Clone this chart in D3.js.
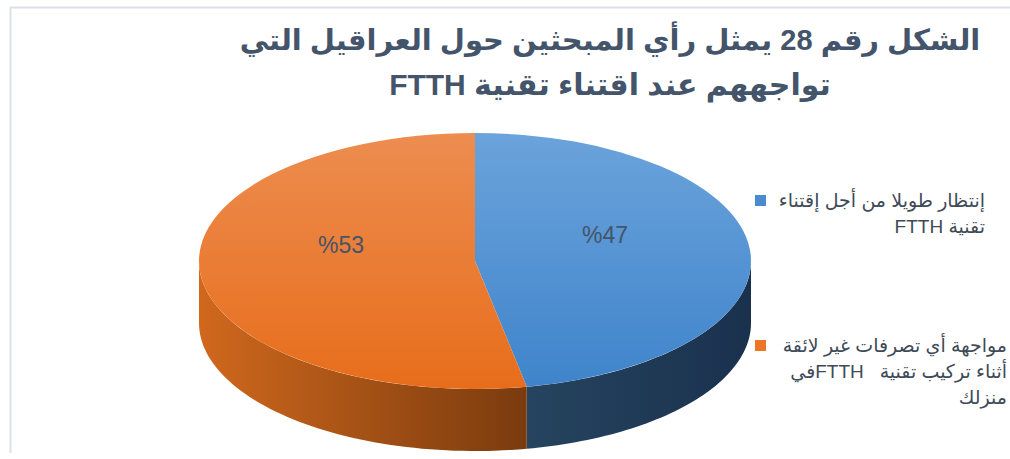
<!DOCTYPE html>
<html>
<head>
<meta charset="utf-8">
<script src="https://cdn.jsdelivr.net/npm/d3@7"></script>
<style>
  html, body { margin: 0; padding: 0; background: #fff; }
  svg { display: block; }
  text { white-space: pre; }
</style>
</head>
<body>
<div id="chart"></div>
<script>
// chart data
var titleLines = [
    'الشكل رقم 28 يمثل رأي المبحثين حول العراقيل التي',
    'تواجههم عند اقتناء تقنية FTTH'
];
var categories = [
    'إنتظار طويلا من أجل إقتناء تقنية FTTH',
    'مواجهة أي تصرفات غير لائقة أثناء تركيب تقنية   FTTHفي منزلك'
];
// legend text as wrapped in the picture
var legendLines = [
    ['إنتظار طويلا من أجل إقتناء', 'تقنية FTTH'],
    ['مواجهة أي تصرفات غير لائقة', 'أثناء تركيب تقنية   FTTHفي', 'منزلك']
];
var values = [47, 53];
var topColors = [['#6ba3db', '#3f84cb'], ['#ed8d50', '#e76d1b']];
var sideColors = [['#26445f', '#1a314e'], ['#d0681d', '#7a3b0e']];
var legendColors = ['#4a8bd0', '#ec7526'];

var width = 1010,
    height = 459,
    cx = 475,
    cy = 261,
    rx = 276,
    ry = 128,
    depth = 62;

var svg = d3.select('#chart').append('svg')
    .attr('width', width)
    .attr('height', height);

var defs = svg.append('defs');

// frame lines (top and left edges of the chart area)
svg.append('path')
    .attr('d', 'M10.5,453 L10.5,7.5 L1010,7.5')
    .attr('fill', 'none')
    .attr('stroke', '#dbe1e8')
    .attr('stroke-width', 2);

var pie = d3.pie().sort(null).value(function(d) { return d; });
var arcs = pie(values);

function pt(a, dy) {
    return [cx + rx * Math.sin(a), cy - ry * Math.cos(a) + (dy || 0)];
}

// side walls, only the front half (pi/2 .. 3pi/2) shows
var sideG = svg.append('g');
arcs.forEach(function(d, i) {
    var a0 = Math.max(d.startAngle, Math.PI / 2),
        a1 = Math.min(d.endAngle, Math.PI * 1.5);
    if (a1 <= a0) return;

    var p0 = pt(a0), p1 = pt(a1);
    var xs = [p0[0], p1[0]].sort(d3.ascending);
    var gid = 'side' + i;
    var g = defs.append('linearGradient')
        .attr('id', gid)
        .attr('gradientUnits', 'userSpaceOnUse')
        .attr('x1', xs[0]).attr('x2', xs[1])
        .attr('y1', 0).attr('y2', 0);
    g.append('stop').attr('offset', 0).attr('stop-color', sideColors[i][0]);
    g.append('stop').attr('offset', 1).attr('stop-color', sideColors[i][1]);

    var p = d3.path();
    p.moveTo(p0[0], p0[1]);
    var n = 60;
    for (var k = 1; k <= n; k++) {
        var q = pt(a0 + (a1 - a0) * k / n);
        p.lineTo(q[0], q[1]);
    }
    for (var k = n; k >= 0; k--) {
        var q = pt(a0 + (a1 - a0) * k / n, depth);
        p.lineTo(q[0], q[1]);
    }
    p.closePath();

    sideG.append('path')
        .attr('d', p.toString())
        .attr('fill', 'url(#' + gid + ')');
});

// top faces: a flat pie squashed vertically
var arc = d3.arc().innerRadius(0).outerRadius(rx);
var topG = svg.append('g')
    .attr('transform', 'translate(' + cx + ',' + cy + ') scale(1,' + (ry / rx) + ')');

topG.selectAll('path')
    .data(arcs)
  .enter().append('path')
    .attr('d', arc)
    .attr('fill', function(d, i) {
        var gid = 'top' + i;
        var g = defs.append('linearGradient')
            .attr('id', gid)
            .attr('x1', 0).attr('y1', 0)
            .attr('x2', 0).attr('y2', 1);
        g.append('stop').attr('offset', 0).attr('stop-color', topColors[i][0]);
        g.append('stop').attr('offset', 1).attr('stop-color', topColors[i][1]);
        return 'url(#' + gid + ')';
    });

// data labels
var labelPos = [[605, 243], [341, 253]];
svg.selectAll('text.label')
    .data(arcs)
  .enter().append('text')
    .attr('class', 'label')
    .attr('x', function(d, i) { return labelPos[i][0]; })
    .attr('y', function(d, i) { return labelPos[i][1]; })
    .attr('text-anchor', 'middle')
    .attr('font-family', '"Liberation Sans", Arial, sans-serif')
    .attr('font-size', 23)
    .attr('fill', '#44546a')
    .text(function(d) { return '%' + d.data; });

// title
svg.selectAll('text.title')
    .data(titleLines)
  .enter().append('text')
    .attr('class', 'title')
    .attr('x', 610)
    .attr('y', function(d, i) { return 50 + i * 45; })
    .attr('text-anchor', 'middle')
    .attr('direction', 'rtl')
    .attr('font-family', '"Liberation Sans", "DejaVu Sans", sans-serif')
    .attr('font-weight', 'bold')
    .attr('font-size', function(d, i) { return i ? 30 : 29; })
    .attr('fill', '#44546a')
    .text(function(d) { return d; });

// legend
var legendY = [195, 340],
    legendRight = [985, 1007];
var leg = svg.selectAll('g.legend')
    .data(legendLines)
  .enter().append('g')
    .attr('class', 'legend');

leg.append('rect')
    .attr('x', 755)
    .attr('y', function(d, i) { return legendY[i]; })
    .attr('width', 11)
    .attr('height', 11)
    .attr('fill', function(d, i) { return legendColors[i]; });

leg.each(function(lines, i) {
    d3.select(this).selectAll('text')
        .data(lines)
      .enter().append('text')
        .attr('x', legendRight[i])
        .attr('y', function(d, j) { return legendY[i] + 12 + j * 26; })
        .attr('direction', 'rtl')
        .attr('text-anchor', 'start')
        .attr('font-family', '"Liberation Sans", "DejaVu Sans", sans-serif')
        .attr('font-size', 19)
        .attr('fill', '#404a57')
        .text(function(d) { return d; });
});
</script>
</body>
</html>
